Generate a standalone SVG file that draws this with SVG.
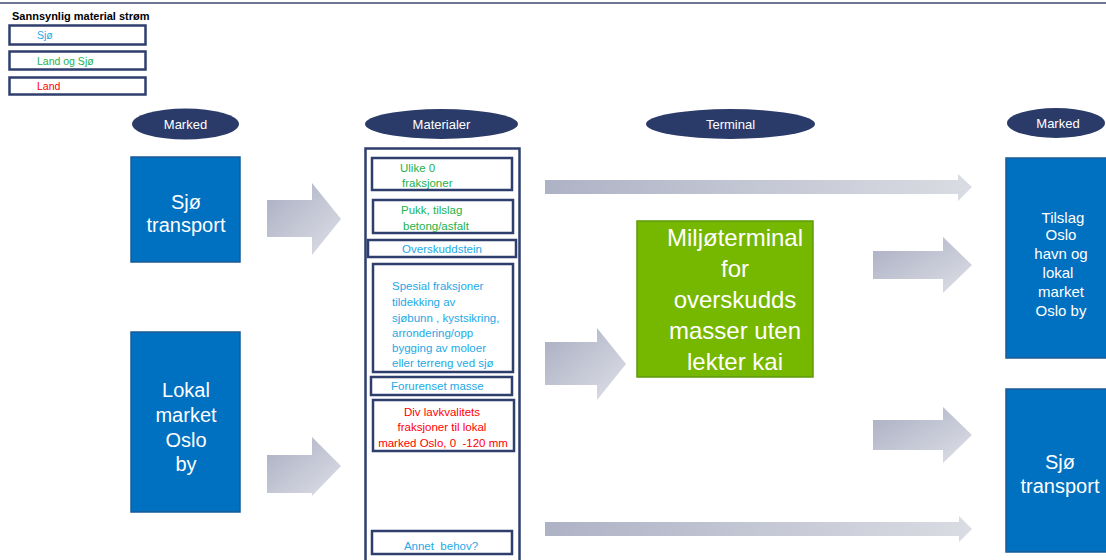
<svg xmlns="http://www.w3.org/2000/svg" width="1106" height="560" viewBox="0 0 1106 560">
<defs>
<linearGradient id="ag" x1="0" y1="0" x2="1" y2="1">
<stop offset="0" stop-color="#A9ADC1"/>
<stop offset="1" stop-color="#DEE0E7"/>
</linearGradient>
<linearGradient id="agl" x1="0" y1="0" x2="1" y2="0">
<stop offset="0" stop-color="#AEB2C5"/>
<stop offset="1" stop-color="#DADCE3"/>
</linearGradient>
<style>
text{font-family:"Liberation Sans",Arial,sans-serif;white-space:pre}
.frame{fill:none;stroke:#2E3F6E;stroke-width:2.5}
.inner{fill:#fff;stroke:#2E3F6E;stroke-width:2.5}
.ell{fill:#2A3B6A}
.ellt{fill:#fff;font-size:13px;text-anchor:middle}
.blue{fill:#0070C0;stroke:#1A5A96;stroke-width:1.5}
.bt{fill:#fff;font-size:20px;text-anchor:middle}
.sj{fill:#22A9E6}
.gr{fill:#1DB24C}
.rd{fill:#FF0000}
.m{font-size:11.5px}
.arr{fill:url(#ag)}
.arrl{fill:url(#agl)}
</style>
</defs>
<line x1="0" y1="3" x2="1106" y2="3" stroke="#3C4A6B" stroke-width="1.5"/>
<g id="legend">
<text x="12" y="20" font-size="11" font-weight="bold" fill="#000">Sannsynlig material strøm</text>
<rect class="inner" x="9.5" y="25.5" width="136" height="19"/>
<text x="37" y="39" font-size="10.5" class="sj">Sjø</text>
<rect class="inner" x="9.5" y="51.5" width="136" height="18"/>
<text x="37" y="65" font-size="10.5" class="gr">Land og Sjø</text>
<rect class="inner" x="9.5" y="77.5" width="136" height="17"/>
<text x="37" y="90" font-size="10.5" class="rd">Land</text>
</g>
<g id="hdr-marked-left"><ellipse class="ell" cx="185.5" cy="124" rx="53.5" ry="15.5"/><text class="ellt" x="185.5" y="129">Marked</text></g>
<g id="hdr-materialer"><ellipse class="ell" cx="441.5" cy="124" rx="76.5" ry="15"/><text class="ellt" x="441.5" y="129">Materialer</text></g>
<g id="hdr-terminal"><ellipse class="ell" cx="730.5" cy="124" rx="84.5" ry="15"/><text class="ellt" x="730.5" y="129">Terminal</text></g>
<g id="hdr-marked-right"><ellipse class="ell" cx="1056" cy="123" rx="49" ry="15"/><text class="ellt" x="1058" y="128">Marked</text></g>
<g id="sjo-left"><rect class="blue" x="131" y="157" width="109" height="105"/><text class="bt" x="186" y="209">Sjø</text><text class="bt" x="186" y="232">transport</text></g>
<g id="lokal-left"><rect class="blue" x="131" y="332" width="109" height="180"/><text class="bt" x="186" y="397">Lokal</text><text class="bt" x="186" y="422">market</text><text class="bt" x="186" y="447">Oslo</text><text class="bt" x="186" y="471">by</text></g>
<g id="tilslag-right"><rect class="blue" x="1006" y="158" width="110" height="200"/><g font-size="15" fill="#fff" text-anchor="middle"><text x="1063" y="223">Tilslag</text><text x="1061" y="240">Oslo</text><text x="1061" y="259">havn og</text><text x="1058" y="278">lokal</text><text x="1061" y="297">market</text><text x="1061" y="316">Oslo by</text></g></g>
<g id="sjo-right"><rect class="blue" x="1006" y="389" width="110" height="163"/><text class="bt" x="1060" y="469">Sjø</text><text class="bt" x="1060" y="493">transport</text></g>
<g id="materialer">
<rect class="frame" x="365.5" y="148.5" width="154" height="420"/>
<rect class="inner" x="372" y="158" width="140" height="32"/>
<text class="m gr" x="400" y="172">Ulike 0</text><text class="m gr" x="402" y="187">fraksjoner</text>
<rect class="inner" x="373" y="200" width="140" height="33"/>
<text class="m gr" x="401" y="214">Pukk, tilslag</text><text class="m gr" x="403" y="230">betong/asfalt</text>
<rect class="inner" x="368" y="240" width="148" height="17"/>
<text class="sj" font-size="11.5" x="442" y="253" text-anchor="middle">Overskuddstein</text>
<rect class="inner" x="373" y="264" width="140" height="108"/>
<g class="m sj"><text x="392" y="290">Spesial fraksjoner</text><text x="392" y="306">tildekking av</text><text x="392" y="322">sjøbunn , kystsikring,</text><text x="392" y="337">arrondering/opp</text><text x="392" y="352">bygging av moloer</text><text x="392" y="367">eller terreng ved sjø</text></g>
<rect class="inner" x="371" y="377" width="141" height="18"/>
<text class="m sj" x="391" y="390">Forurenset masse</text>
<rect class="inner" x="373" y="400" width="141" height="51"/>
<g class="m rd" text-anchor="middle"><text x="442" y="416">Div lavkvalitets</text><text x="442" y="431">fraksjoner til lokal</text><text x="443" y="447">marked Oslo, 0  -120 mm</text></g>
<rect class="inner" x="372" y="531" width="140" height="23"/>
<text class="m sj" x="441" y="550" text-anchor="middle">Annet  behov?</text>
</g>
<g id="miljoterminal">
<rect x="637" y="221" width="176" height="156" fill="#76B800" stroke="#5E9A0A" stroke-width="1.5"/>
<g fill="#fff" font-size="24" text-anchor="middle"><text x="735" y="246">Miljøterminal</text><text x="735" y="277">for</text><text x="735" y="308">overskudds</text><text x="735" y="339">masser uten</text><text x="735" y="370">lekter kai</text></g>
</g>
<g id="connectors">
<polygon class="arr" points="267,200 312,200 312,183 341,219 312,255 312,237 267,237"/>
<polygon class="arr" points="267,455 312,455 312,437 341,466 312,496 312,493 267,493"/>
<polygon class="arr" points="545,342 597,342 597,328 626,364 597,400 597,385 545,385"/>
<polygon class="arr" points="873,251 943,251 943,237 972,265 943,293 943,279 873,279"/>
<polygon class="arr" points="873,420 943,420 943,407 972,435 943,463 943,450 873,450"/>
<polygon class="arrl" points="545,180 958,180 958,174 972,187 958,201 958,194 545,194"/>
<polygon class="arrl" points="545,522 959,522 959,516 972,529 959,542 959,536 545,536"/>
</g>
</svg>
